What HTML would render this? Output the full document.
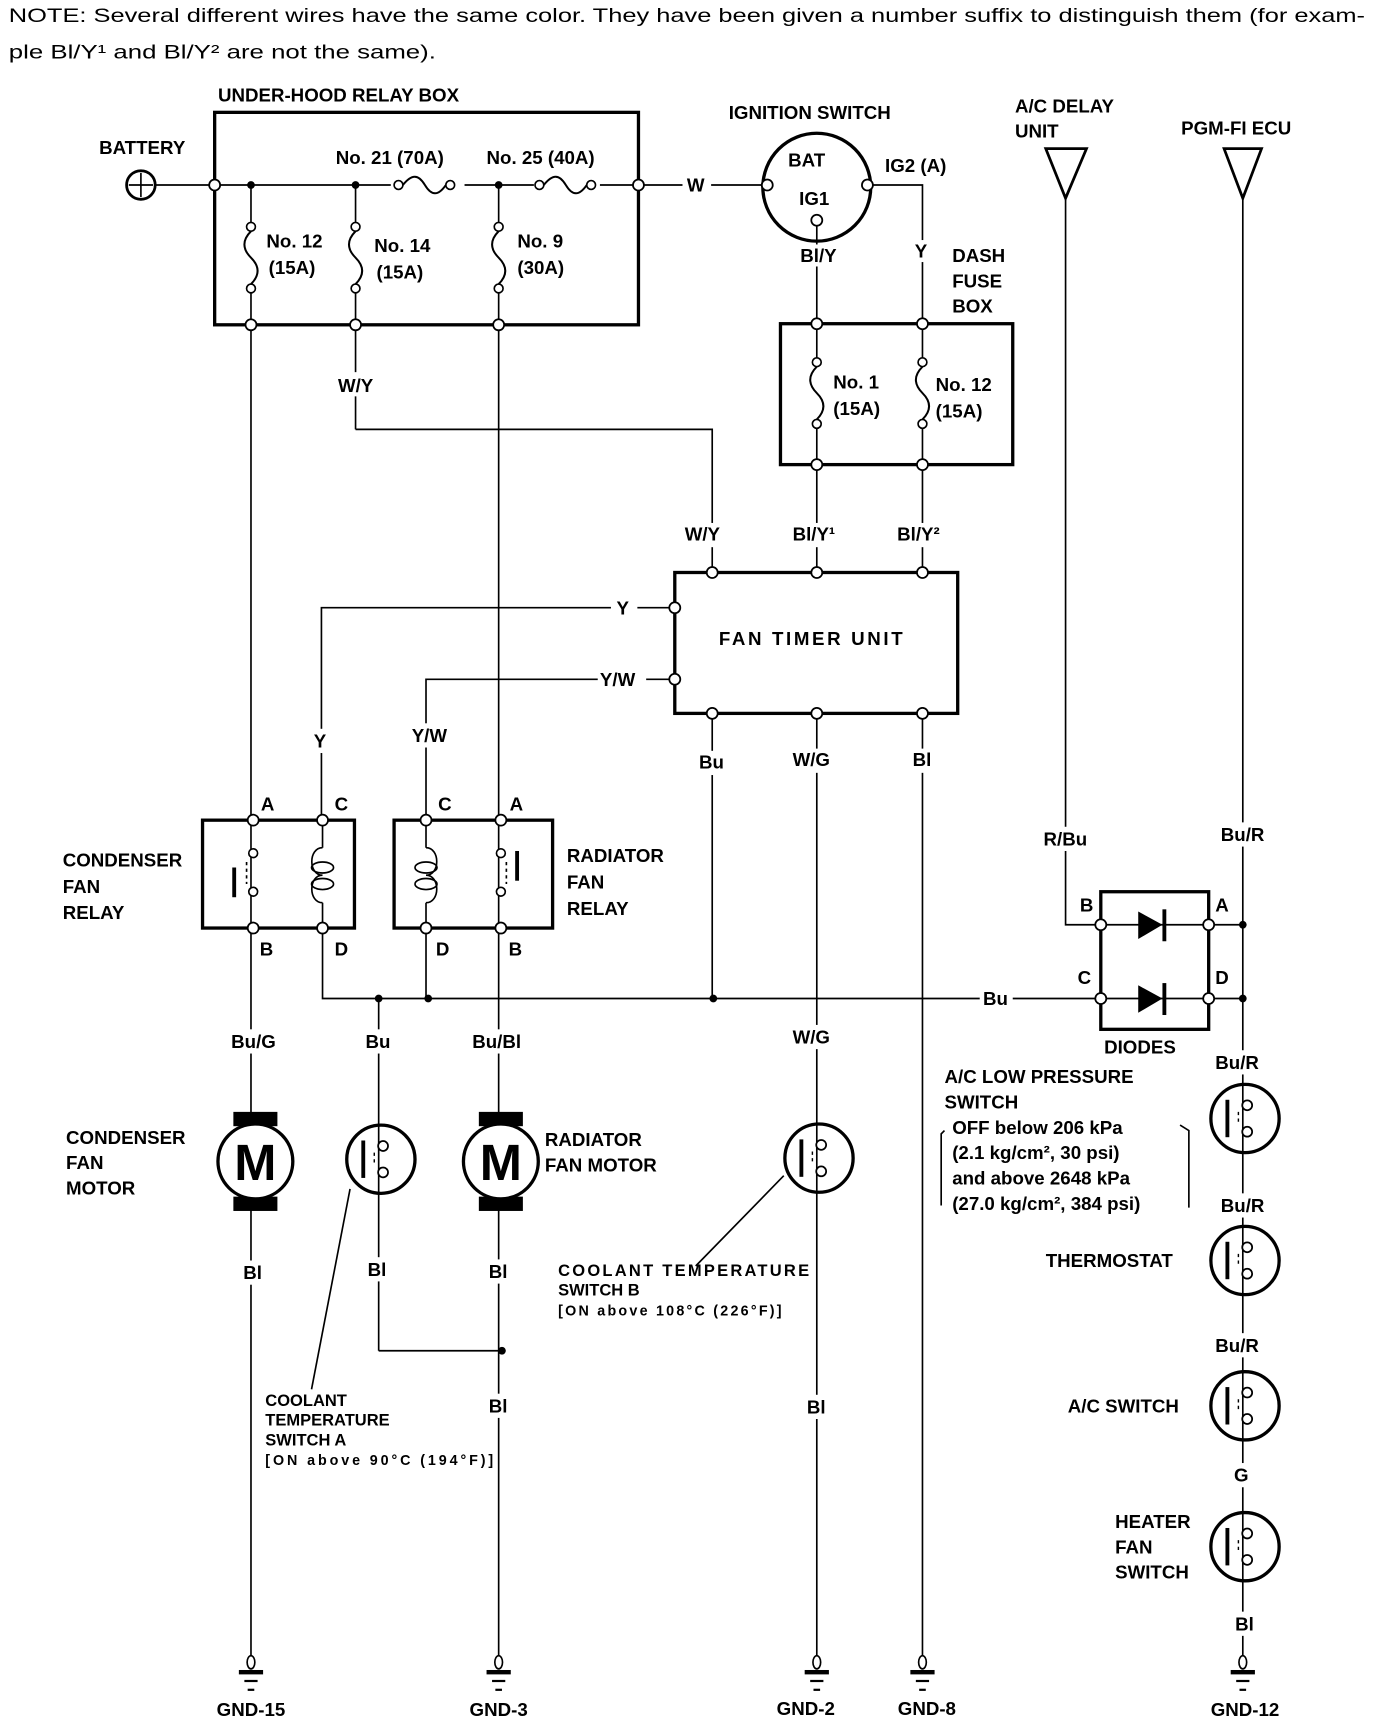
<!DOCTYPE html>
<html><head><meta charset="utf-8"><style>
html,body{margin:0;padding:0;background:#fff}
svg{display:block}
text{font-family:"Liberation Sans",Arial,sans-serif;font-weight:bold;font-size:17px;fill:#000}
.n{font-weight:normal;font-size:17.5px}
.s{font-size:15px}
</style></head><body>
<svg width="1376" height="1724" viewBox="0 0 1250 1566" xmlns="http://www.w3.org/2000/svg">
<defs>
<g id="oc"><circle r="5" fill="#fff" stroke="#000" stroke-width="1.6"/></g>
<g id="sw"><circle cx="0" cy="0" r="31" fill="#fff" stroke="#000" stroke-width="3"/>
<line x1="-2" y1="-31" x2="-2" y2="31" stroke="#000" stroke-width="1.5"/>
<line x1="-16" y1="-17" x2="-16" y2="17" stroke="#000" stroke-width="3.5"/>
<line x1="-6" y1="-6" x2="-6" y2="6" stroke="#000" stroke-width="1.3" stroke-dasharray="3,3"/>
<circle cx="2" cy="-12" r="4.5" fill="#fff" stroke="#000" stroke-width="1.6"/>
<circle cx="2" cy="12" r="4.5" fill="#fff" stroke="#000" stroke-width="1.6"/></g>
<g id="mot"><rect x="-20" y="-45" width="40" height="13" fill="#000"/><rect x="-20" y="32" width="40" height="13" fill="#000"/>
<circle r="34" fill="#fff" stroke="#000" stroke-width="3"/>
<text x="0" y="17" text-anchor="middle" style="font-size:46px;font-weight:bold">M</text></g>
<g id="fuse"><circle cx="0" cy="0" r="4" fill="#fff" stroke="#000" stroke-width="1.5"/>
<path d="M0 4 C-8 12,-8 20,0 28 C8 36,8 44,0 52" fill="none" stroke="#000" stroke-width="1.8"/>
<circle cx="0" cy="56" r="4" fill="#fff" stroke="#000" stroke-width="1.5"/></g>
<g id="hfuse"><circle cx="0" cy="0" r="4" fill="#fff" stroke="#000" stroke-width="1.5"/>
<path d="M4 0 C12 -10,18 -10,24 0 C30 10,36 10,43 0" fill="none" stroke="#000" stroke-width="1.8"/>
<circle cx="47" cy="0" r="4" fill="#fff" stroke="#000" stroke-width="1.5"/></g>
<g id="gnd"><line x1="0" y1="-8" x2="0" y2="0" stroke="#000" stroke-width="1.3"/><ellipse cx="0" cy="-3" rx="3.5" ry="6" fill="#fff" stroke="#000" stroke-width="1.5"/>
<rect x="-11" y="4" width="22" height="4" fill="#000"/><rect x="-6" y="13" width="12" height="2" fill="#000"/><rect x="-3" y="21" width="6" height="2" fill="#000"/></g>
</defs>

<text class="n" x="8" y="20" textLength="1232" lengthAdjust="spacingAndGlyphs">NOTE:  Several different wires have the same color. They have been given a number suffix to distinguish them (for exam-</text>
<text class="n" x="8" y="53" textLength="388" lengthAdjust="spacingAndGlyphs">ple Bl/Y¹ and Bl/Y² are not the same).</text>

<g stroke="#000" stroke-width="1.5" fill="none">
<rect x="195" y="102" width="385" height="193" stroke-width="3"/>
<line x1="141" y1="168" x2="692" y2="168"/>
<line x1="228" y1="168" x2="228" y2="1505"/>
<line x1="323" y1="168" x2="323" y2="390"/>
<line x1="453" y1="168" x2="453" y2="1505"/>
<polyline points="323,390 647,390 647,520"/>
<circle cx="742" cy="170" r="49" stroke-width="3"/>
<polyline points="788,168 838,168 838,520"/>
<line x1="742" y1="202" x2="742" y2="520"/>
<rect x="709" y="294" width="211" height="128" stroke-width="3"/>
<rect x="613" y="520" width="257" height="128" stroke-width="3"/>
<polyline points="613,552 292,552 292,745"/>
<polyline points="613,617 387,617 387,745"/>
<line x1="647" y1="648" x2="647" y2="907"/>
<line x1="742" y1="648" x2="742" y2="1505"/>
<line x1="838" y1="648" x2="838" y2="1505"/>
<rect x="184" y="745" width="138" height="98" stroke-width="3"/>
<rect x="358" y="745" width="144" height="98" stroke-width="3"/>
<polyline points="293,843 293,907 1000,907"/>
<line x1="387" y1="843" x2="387" y2="907"/>
<line x1="344" y1="907" x2="344" y2="1227"/>
<line x1="344" y1="1227" x2="456" y2="1227"/>
<path d="M293 745 V770 M293 820 V843 M293 770 C280 770,280 795,293 795 C280 795,280 820,293 820" />
<ellipse cx="293" cy="788" rx="10" ry="5"/><ellipse cx="293" cy="803" rx="10" ry="5"/>
<path d="M387 745 V770 M387 820 V843 M387 770 C400 770,400 795,387 795 C400 795,400 820,387 820" />
<ellipse cx="387" cy="788" rx="10" ry="5"/><ellipse cx="387" cy="803" rx="10" ry="5"/>
<line x1="224" y1="783" x2="224" y2="803" stroke-dasharray="3,3"/>
<line x1="460" y1="783" x2="460" y2="803" stroke-dasharray="3,3"/>
<polygon points="950,135 987,135 968,180" stroke-width="2.5"/>
<polygon points="1112,135 1146,135 1129,180" stroke-width="2.5"/>
<polyline points="968,180 968,840 1000,840"/>
<line x1="1129" y1="180" x2="1129" y2="1505"/>
<line x1="1098" y1="840" x2="1129" y2="840"/>
<line x1="1098" y1="907" x2="1129" y2="907"/>
<rect x="1000" y="810" width="98" height="125" stroke-width="3"/>
<line x1="1000" y1="840" x2="1098" y2="840"/>
<line x1="1000" y1="907" x2="1098" y2="907"/>
<line x1="632" y1="1150" x2="712" y2="1068"/>
<line x1="283" y1="1262" x2="318" y2="1080"/>
<path d="M858 1027 L855 1030 V1095" /><path d="M1072 1022 L1080 1027 V1097"/>
</g>

<rect x="211" y="788" width="3.5" height="27" fill="#000"/>
<rect x="468" y="773" width="3.5" height="27" fill="#000"/>
<circle cx="230" cy="775" r="4" fill="#fff" stroke="#000" stroke-width="1.5"/>
<circle cx="230" cy="810" r="4" fill="#fff" stroke="#000" stroke-width="1.5"/>
<circle cx="455" cy="775" r="4" fill="#fff" stroke="#000" stroke-width="1.5"/>
<circle cx="455" cy="810" r="4" fill="#fff" stroke="#000" stroke-width="1.5"/>

<polygon points="1034,828 1034,853 1056,840" fill="#000"/><rect x="1056" y="826" width="3.5" height="29" fill="#000"/>
<polygon points="1034,895 1034,920 1056,907" fill="#000"/><rect x="1056" y="893" width="3.5" height="29" fill="#000"/>

<circle cx="128" cy="168" r="13" fill="#fff" stroke="#000" stroke-width="2.5"/>
<line x1="117" y1="168" x2="139" y2="168" stroke="#000" stroke-width="1.5"/><line x1="128" y1="157" x2="128" y2="179" stroke="#000" stroke-width="1.5"/>

<rect x="355" y="160" width="67" height="14" fill="#fff"/><use href="#hfuse" x="362" y="168"/>
<rect x="485" y="160" width="60" height="14" fill="#fff"/><use href="#hfuse" x="490" y="168"/>
<rect x="220" y="204" width="16" height="60" fill="#fff"/><use href="#fuse" x="228" y="206"/>
<rect x="315" y="204" width="16" height="60" fill="#fff"/><use href="#fuse" x="323" y="206"/>
<rect x="445" y="204" width="16" height="60" fill="#fff"/><use href="#fuse" x="453" y="206"/>
<rect x="734" y="325" width="16" height="64" fill="#fff"/><use href="#fuse" x="742" y="329"/>
<rect x="830" y="325" width="16" height="64" fill="#fff"/><use href="#fuse" x="838" y="329"/>

<g fill="#000"><circle cx="228" cy="168" r="3.5"/><circle cx="323" cy="168" r="3.5"/><circle cx="453" cy="168" r="3.5"/>
<circle cx="344" cy="907" r="3.5"/><circle cx="389" cy="907" r="3.5"/><circle cx="648" cy="907" r="3.5"/>
<circle cx="456" cy="1227" r="3.5"/><circle cx="1129" cy="840" r="3.5"/><circle cx="1129" cy="907" r="3.5"/></g>

<use href="#oc" x="195" y="168"/><use href="#oc" x="580" y="168"/>
<use href="#oc" x="228" y="295"/><use href="#oc" x="323" y="295"/><use href="#oc" x="453" y="295"/>
<use href="#oc" x="697" y="168"/><use href="#oc" x="788" y="168"/><use href="#oc" x="742" y="200"/>
<use href="#oc" x="742" y="294"/><use href="#oc" x="838" y="294"/><use href="#oc" x="742" y="422"/><use href="#oc" x="838" y="422"/>
<use href="#oc" x="647" y="520"/><use href="#oc" x="742" y="520"/><use href="#oc" x="838" y="520"/>
<use href="#oc" x="613" y="552"/><use href="#oc" x="613" y="617"/>
<use href="#oc" x="647" y="648"/><use href="#oc" x="742" y="648"/><use href="#oc" x="838" y="648"/>
<use href="#oc" x="230" y="745"/><use href="#oc" x="293" y="745"/><use href="#oc" x="230" y="843"/><use href="#oc" x="293" y="843"/>
<use href="#oc" x="387" y="745"/><use href="#oc" x="455" y="745"/><use href="#oc" x="387" y="843"/><use href="#oc" x="455" y="843"/>
<use href="#oc" x="1000" y="840"/><use href="#oc" x="1098" y="840"/><use href="#oc" x="1000" y="907"/><use href="#oc" x="1098" y="907"/>

<g fill="#fff">
<rect x="620" y="158" width="26" height="20"/>
<rect x="310" y="338" width="36" height="22"/>
<rect x="555" y="542" width="24" height="20"/>
<rect x="543" y="607" width="44" height="20"/>
<rect x="280" y="662" width="24" height="22"/>
<rect x="372" y="657" width="32" height="22"/>
<rect x="632" y="682" width="30" height="22"/>
<rect x="718" y="680" width="46" height="22"/>
<rect x="826" y="680" width="24" height="22"/>
<rect x="890" y="897" width="30" height="20"/>
<rect x="210" y="935" width="46" height="22"/><rect x="330" y="935" width="28" height="22"/><rect x="428" y="935" width="52" height="22"/>
<rect x="720" y="931" width="46" height="22"/>
<rect x="216" y="1145" width="28" height="22"/><rect x="330" y="1142" width="28" height="22"/><rect x="440" y="1144" width="28" height="22"/>
<rect x="440" y="1266" width="28" height="22"/><rect x="730" y="1267" width="26" height="22"/>
<rect x="945" y="751" width="46" height="22"/><rect x="1107" y="747" width="46" height="22"/>
<rect x="1102" y="954" width="50" height="22"/><rect x="1107" y="1084" width="48" height="22"/><rect x="1102" y="1211" width="50" height="22"/>
<rect x="1118" y="1329" width="22" height="22"/><rect x="1118" y="1464" width="24" height="22"/>
<rect x="720" y="222" width="42" height="20"/><rect x="826" y="218" width="24" height="20"/>
<rect x="616" y="475" width="48" height="22"/><rect x="716" y="475" width="50" height="22"/><rect x="812" y="475" width="50" height="22"/>
</g>

<use href="#mot" x="232" y="1055"/><use href="#mot" x="455" y="1055"/>
<use href="#sw" x="346" y="1053"/><use href="#sw" x="744" y="1052"/>
<use href="#sw" x="1131" y="1016"/><use href="#sw" x="1131" y="1145"/><use href="#sw" x="1131" y="1277"/><use href="#sw" x="1131" y="1405"/>
<use href="#gnd" x="228" y="1513"/><use href="#gnd" x="453" y="1513"/><use href="#gnd" x="742" y="1513"/><use href="#gnd" x="838" y="1513"/><use href="#gnd" x="1129" y="1513"/>

<text x="198" y="92">UNDER-HOOD RELAY BOX</text>
<text x="90" y="140">BATTERY</text>
<text x="305" y="149">No. 21 (70A)</text>
<text x="442" y="149">No. 25 (40A)</text>
<text x="624" y="174">W</text>
<text x="242" y="225">No. 12</text><text x="244" y="249">(15A)</text>
<text x="340" y="229">No. 14</text><text x="342" y="253">(15A)</text>
<text x="470" y="225">No. 9</text><text x="470" y="249">(30A)</text>
<text x="662" y="108">IGNITION SWITCH</text>
<text x="716" y="151">BAT</text><text x="726" y="186">IG1</text><text x="804" y="156">IG2 (A)</text>
<text x="727" y="238">Bl/Y</text><text x="831" y="234">Y</text>
<text x="865" y="238">DASH</text><text x="865" y="261">FUSE</text><text x="865" y="284">BOX</text>
<text x="757" y="353">No. 1</text><text x="757" y="377">(15A)</text>
<text x="850" y="355">No. 12</text><text x="850" y="379">(15A)</text>
<text x="307" y="356">W/Y</text>
<text x="622" y="491">W/Y</text><text x="720" y="491">Bl/Y¹</text><text x="815" y="491">Bl/Y²</text>
<text x="653" y="586" textLength="167" lengthAdjust="spacing">FAN TIMER  UNIT</text>
<text x="560" y="558">Y</text><text x="545" y="623">Y/W</text>
<text x="285" y="679">Y</text><text x="374" y="674">Y/W</text>
<text x="635" y="698">Bu</text><text x="720" y="696">W/G</text><text x="829" y="696">Bl</text>
<text x="237" y="736">A</text><text x="304" y="736">C</text><text x="398" y="736">C</text><text x="463" y="736">A</text>
<text x="236" y="868">B</text><text x="304" y="868">D</text><text x="396" y="868">D</text><text x="462" y="868">B</text>
<text x="57" y="787">CONDENSER</text><text x="57" y="811">FAN</text><text x="57" y="835">RELAY</text>
<text x="515" y="783">RADIATOR</text><text x="515" y="807">FAN</text><text x="515" y="831">RELAY</text>
<text x="893" y="913">Bu</text>
<text x="210" y="952">Bu/G</text><text x="332" y="952">Bu</text><text x="429" y="952">Bu/Bl</text><text x="720" y="948">W/G</text>
<text x="60" y="1039">CONDENSER</text><text x="60" y="1062">FAN</text><text x="60" y="1085">MOTOR</text>
<text x="495" y="1041">RADIATOR</text><text x="495" y="1064">FAN MOTOR</text>
<text x="221" y="1162">Bl</text><text x="334" y="1159">Bl</text><text x="444" y="1161">Bl</text>
<text x="444" y="1283">Bl</text><text x="733" y="1284">Bl</text>
<text class="s" x="507" y="1159" textLength="228" lengthAdjust="spacing">COOLANT  TEMPERATURE</text><text class="s" x="507" y="1177">SWITCH  B</text><text class="s" x="507" y="1195" style="font-size:13px" textLength="203">[ON above 108°C (226°F)]</text>
<text class="s" x="241" y="1277">COOLANT</text><text class="s" x="241" y="1295">TEMPERATURE</text><text class="s" x="241" y="1313">SWITCH  A</text><text class="s" x="241" y="1331" style="font-size:13px" textLength="207">[ON above 90°C (194°F)]</text>
<text x="922" y="102">A/C DELAY</text><text x="922" y="125">UNIT</text>
<text x="1073" y="122">PGM-FI ECU</text>
<text x="948" y="768">R/Bu</text><text x="1109" y="764">Bu/R</text>
<text x="981" y="828">B</text><text x="1104" y="828">A</text><text x="979" y="894">C</text><text x="1104" y="894">D</text>
<text x="1003" y="957">DIODES</text>
<text x="1104" y="971">Bu/R</text>
<text x="858" y="984">A/C LOW PRESSURE</text><text x="858" y="1007">SWITCH</text>
<text x="865" y="1030">OFF below 206 kPa</text>
<text x="865" y="1053">(2.1 kg/cm², 30 psi)</text>
<text x="865" y="1076">and above 2648 kPa</text>
<text x="865" y="1099">(27.0 kg/cm², 384 psi)</text>
<text x="1109" y="1101">Bu/R</text>
<text x="950" y="1151">THERMOSTAT</text>
<text x="1104" y="1228">Bu/R</text>
<text x="970" y="1283">A/C SWITCH</text>
<text x="1121" y="1346">G</text>
<text x="1013" y="1388">HEATER</text><text x="1013" y="1411">FAN</text><text x="1013" y="1434">SWITCH</text>
<text x="1122" y="1481">Bl</text>
<text x="228" y="1559" text-anchor="middle">GND-15</text>
<text x="453" y="1559" text-anchor="middle">GND-3</text>
<text x="732" y="1558" text-anchor="middle">GND-2</text>
<text x="842" y="1558" text-anchor="middle">GND-8</text>
<text x="1131" y="1559" text-anchor="middle">GND-12</text>
</svg>
</body></html>
